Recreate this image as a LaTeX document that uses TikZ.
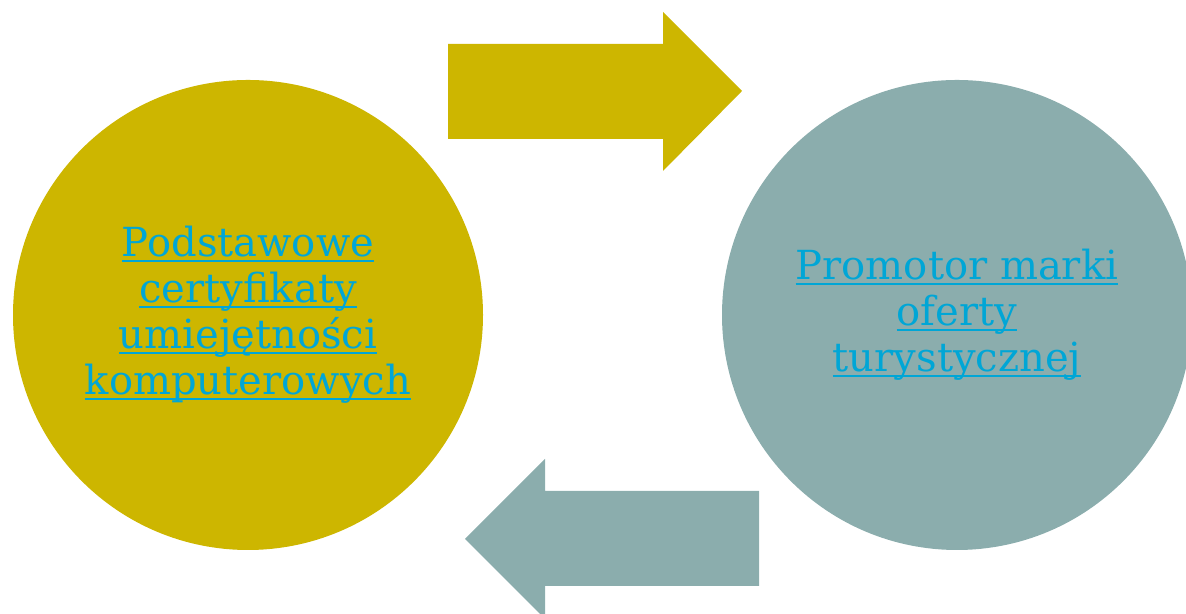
\documentclass[tikz,border=0pt]{standalone}
\usepackage{fontspec}
\setmainfont{DejaVu Serif}
\usepackage{tikz}
\usetikzlibrary{positioning}
\definecolor{zloty}{RGB}{205,182,0}
\definecolor{szary}{RGB}{139,173,173}
\definecolor{link}{RGB}{0,166,214}
\newsavebox{\podkrbox}
\newcommand{\podkr}[1]{\sbox{\podkrbox}{#1}\rlap{\rule[-2.8pt]{\wd\podkrbox}{1.2pt}}\usebox{\podkrbox}}
\tikzset{kolo/.style={circle, minimum size=9.4cm, inner sep=0pt, align=center, text=link,
		font=\fontsize{22.8}{26.2}\selectfont}}

\begin{document}
\begin{tikzpicture}
	\useasboundingbox (0,0) rectangle (23.72,12.28);
	% kola
	\node [kolo, fill=zloty] (certyfikaty) at (4.96,5.98) {%
		\podkr{Podstawowe}\\ \podkr{certyfikaty}\\ \podkr{umiejętności}\\ \podkr{komputerowych}};
	\node [kolo, fill=szary] (promotor) at (19.14,5.98) {%
		\podkr{Promotor marki}\\ \podkr{oferty}\\ \podkr{turystycznej}};
	% strzalki
	\fill[zloty] (8.96,11.4) -- (13.26,11.4) -- (13.26,12.04) -- (14.84,10.46)
		-- (13.26,8.86) -- (13.26,9.5) -- (8.96,9.5) -- cycle;
	\fill[szary] (15.18,2.46) -- (10.9,2.46) -- (10.9,3.1) -- (9.3,1.5)
		-- (10.9,-0.1) -- (10.9,0.56) -- (15.18,0.56) -- cycle;
\end{tikzpicture}
\end{document}
